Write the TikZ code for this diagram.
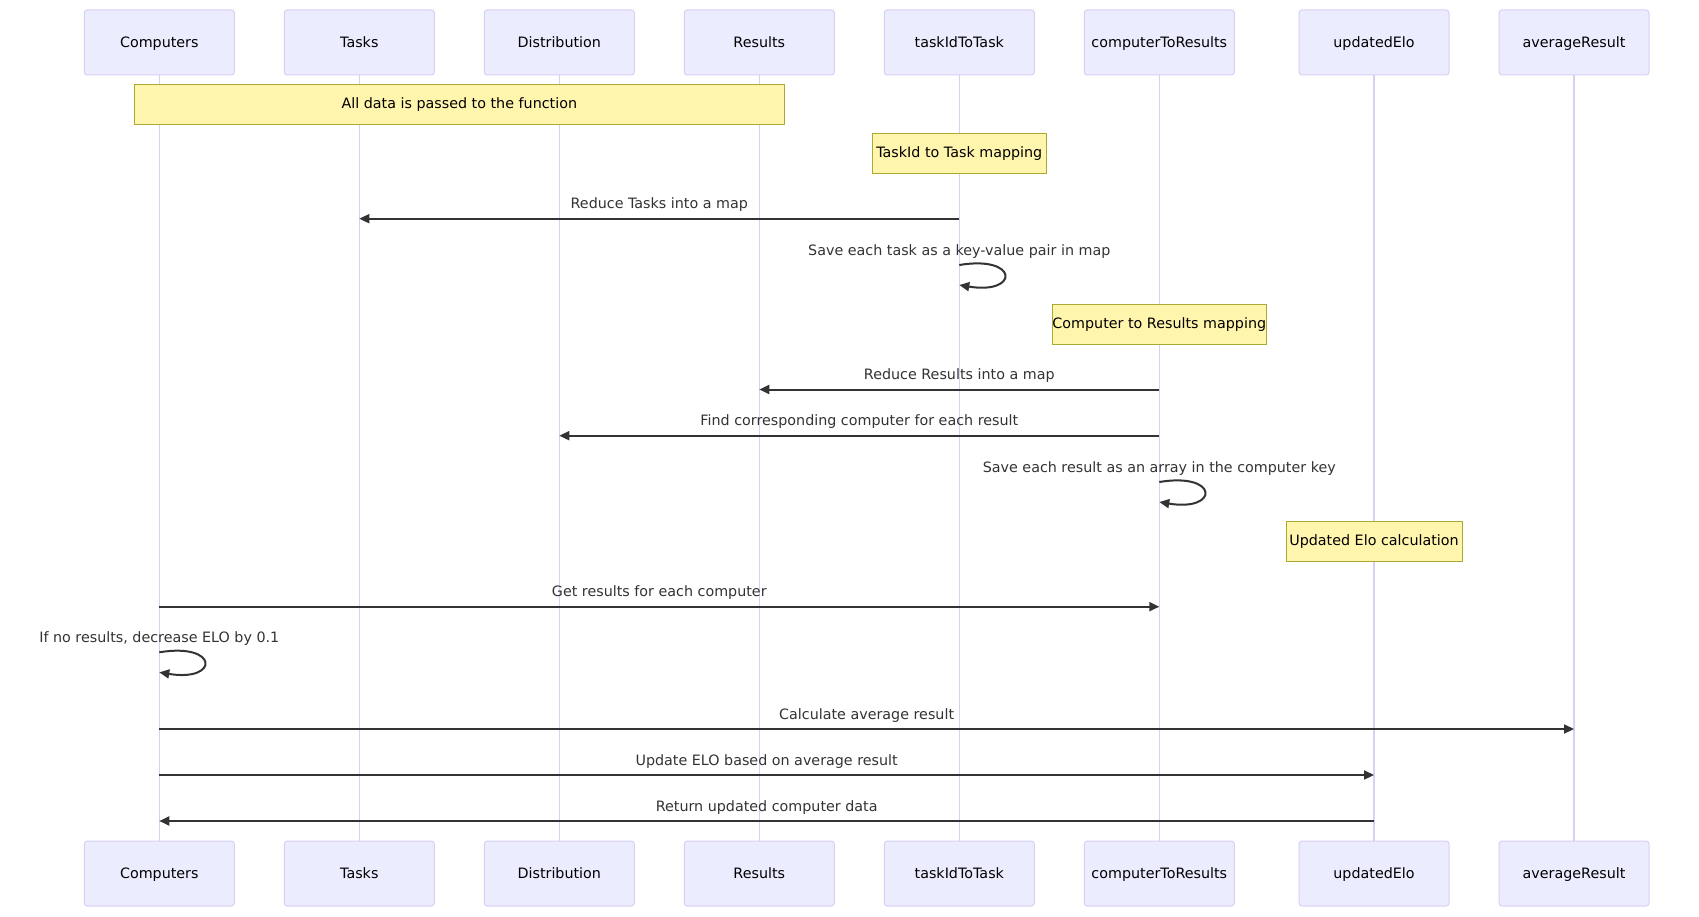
\documentclass[tikz,border=0pt]{standalone}
\usepackage{fontspec}
\setmainfont{DejaVu Sans}
\usetikzlibrary{arrows.meta,positioning}
\definecolor{mfill}{HTML}{ECECFF}
\definecolor{mline}{HTML}{DACEF3}
\definecolor{nfill}{HTML}{FFF5AD}
\definecolor{nline}{HTML}{AAAA33}
\definecolor{mtext}{HTML}{333333}
\begin{document}
\begin{tikzpicture}[x=1pt,y=1pt,node distance=50pt,every node/.style={font=\fontsize{14.3}{17}\selectfont,align=center},actor/.style={draw=mline,fill=mfill,rounded corners=3pt,minimum width=150pt,minimum height=65pt,line width=1pt,outer sep=0pt,text height=11pt,text depth=1pt},note/.style={draw=nline,fill=nfill,minimum height=39.5pt,inner sep=0pt,line width=1pt},life/.style={mline,line width=1.5pt},msg/.style={-{Triangle[length=10pt,width=9pt]},mtext,line width=2pt},lbl/.style={text=mtext,anchor=base,yshift=10pt}]
\path[fill=white,use as bounding box] (0,0) rectangle (1699,-917);
\node[actor] (comp) at (159.3,-42.5) {Computers};
\node[actor,right=of comp] (tasks) {Tasks};
\node[actor,right=of tasks] (dist) {Distribution};
\node[actor,right=of dist] (res) {Results};
\node[actor,right=of res] (tid) {taskIdToTask};
\node[actor,right=of tid] (ctr) {computerToResults};
\node[actor,right=64.7pt of ctr] (elo) {updatedElo};
\node[actor,right=of elo] (avg) {averageResult};
\node[actor,below=766pt of comp] (compB) {Computers};
\node[actor,below=766pt of tasks] (tasksB) {Tasks};
\node[actor,below=766pt of dist] (distB) {Distribution};
\node[actor,below=766pt of res] (resB) {Results};
\node[actor,below=766pt of tid] (tidB) {taskIdToTask};
\node[actor,below=766pt of ctr] (ctrB) {computerToResults};
\node[actor,below=766pt of elo] (eloB) {updatedElo};
\node[actor,below=766pt of avg] (avgB) {averageResult};
\draw[life] (comp.south)--(compB.north); \draw[life] (tasks.south)--(tasksB.north); \draw[life] (dist.south)--(distB.north); \draw[life] (res.south)--(resB.north);
\draw[life] (tid.south)--(tidB.north); \draw[life] (ctr.south)--(ctrB.north); \draw[life] (elo.south)--(eloB.north); \draw[life] (avg.south)--(avgB.north);
% notes
\node[note,minimum width=650pt] (nAll) at (459.3,-104.3) {All data is passed to the function};
\node[note,minimum width=174pt] (nTid) at (tid |- 0,-153.4) {TaskId to Task mapping};
\node[note,minimum width=212pt] (nCtr) at (ctr |- 0,-324.3) {Computer to Results mapping};
\node[note,minimum width=176pt] (nElo) at (elo |- 0,-541.5) {Updated Elo calculation};
% messages
\draw[msg] (tid |- 0,-218.7) -- node[lbl] {Reduce Tasks into a map} (tasks |- 0,-218.7);
\draw[msg] (tid |- 0,-265) node[lbl] {Save each task as a key-value pair in map} .. controls +(60,10) and +(60,-10) .. (tid |- 0,-285);
\draw[msg] (ctr |- 0,-389.5) -- node[lbl] {Reduce Results into a map} (res |- 0,-389.5);
\draw[msg] (ctr |- 0,-435.7) -- node[lbl] {Find corresponding computer for each result} (dist |- 0,-435.7);
\draw[msg] (ctr |- 0,-482) node[lbl] {Save each result as an array in the computer key} .. controls +(60,10) and +(60,-10) .. (ctr |- 0,-502);
\draw[msg] (comp |- 0,-606.7) -- node[lbl] {Get results for each computer} (ctr |- 0,-606.7);
\draw[msg] (comp |- 0,-652.3) node[lbl] {If no results, decrease ELO by 0.1} .. controls +(60,10) and +(60,-10) .. (comp |- 0,-672.3);
\draw[msg] (comp |- 0,-729) -- node[lbl] {Calculate average result} (avg |- 0,-729);
\draw[msg] (comp |- 0,-775) -- node[lbl] {Update ELO based on average result} (elo |- 0,-775);
\draw[msg] (elo |- 0,-821) -- node[lbl] {Return updated computer data} (comp |- 0,-821);
\end{tikzpicture}
\end{document}
